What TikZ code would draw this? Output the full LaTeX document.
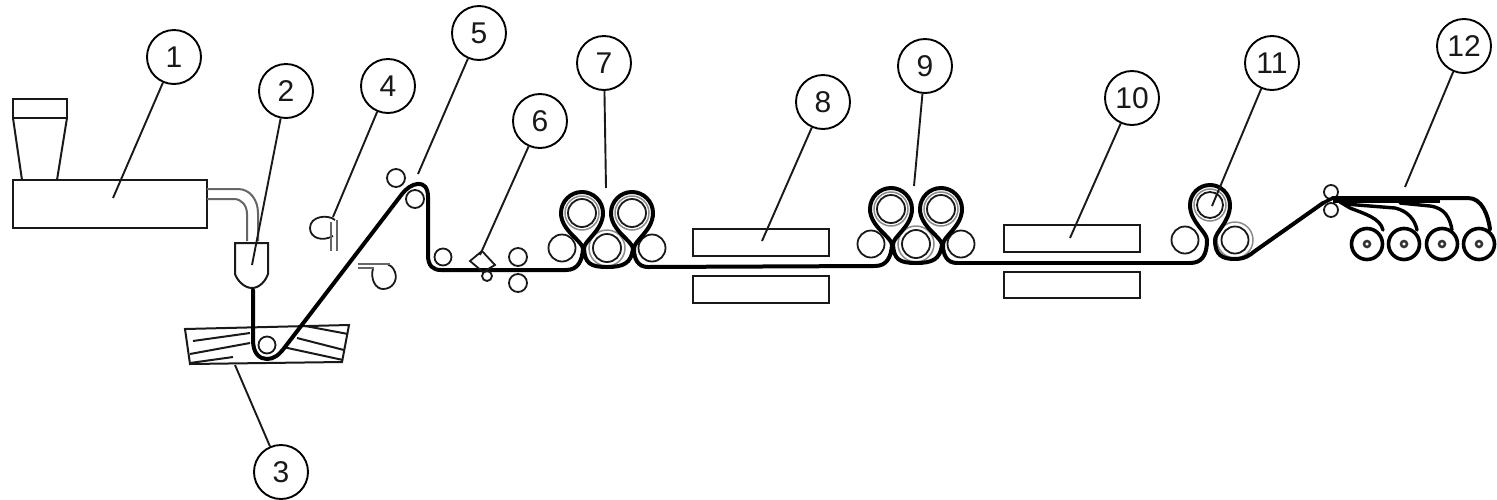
\documentclass[tikz,border=0pt]{standalone}
\usepackage{fontspec}
\setmainfont{Liberation Sans}
\newcommand{\topcurve}[3]{ .. controls (#1,#2-#3*0.55) and (#1+#3*0.45,#2-#3) .. (#1+#3,#2-#3) .. controls (#1+#3*1.55,#2-#3) and (#1+#3*2,#2-#3*0.55) .. (#1+#3*2,#2)}
\tikzset{
  callout/.style={circle,draw=black,line width=1.9pt,minimum size=54pt,inner sep=0pt,font=\fontsize{30}{32}\selectfont,text=black!90},
  leaderline/.style={line width=1.9pt,black!90},
  roller/.style={line width=1.8pt,black!90},
  ringline/.style={line width=1.5pt,black!45},
  web/.style={line width=4pt,black,line cap=round,line join=round},
  thinweb/.style={line width=3.4pt,black,line cap=round,line join=round},
  equip/.style={line width=2pt,black!90},
  graypart/.style={line width=2pt,black!60},
  windroll/.style={line width=3.6pt,black}
}
\newcommand{\rollergroup}[2]{%
\begin{scope}[shift={(#1,#2)}]
  \draw[ringline] (0,0) circle[radius=17pt] (50,0) circle[radius=17pt];
  \draw[roller] (0,0) circle[radius=14pt] (50,0) circle[radius=14pt]
    (-20,35) circle[radius=13.5pt] (25,35) circle[radius=14pt] (70,35) circle[radius=13.5pt];
  \draw[ringline] (25,35) circle[radius=18pt];
  \draw[web] (-16,57) .. controls (-4,57) and (0,48) .. (1,36)
    .. controls (1,28) and (-21,18) .. (-21,0)
    \topcurve{-21}{0}{21}
    .. controls (21,18) and (1,28) .. (2,36)
    .. controls (3,50) and (8,54) .. (25,54)
    .. controls (42,54) and (49,50) .. (51,36)
    .. controls (51,28) and (29,18) .. (29,0)
    \topcurve{29}{0}{21}
    .. controls (71,18) and (51,28) .. (52,36)
    .. controls (52,46) and (56,54) .. (66,54);
\end{scope}}
\begin{document}
\begin{tikzpicture}[x=1pt,y=-1pt]
\useasboundingbox[fill=white] (0,0) rectangle (1497,499);

% extruder
\draw[equip] (13,180) rectangle (207,228);
\draw[equip] (13,99) rectangle (67,118);
\draw[equip] (13,118) -- (22,180) (67,118) -- (57,180);
\draw[graypart] (207,189) -- (238,189) .. controls (250,189) and (258,200) .. (258,213) -- (258,241);
\draw[graypart] (207,199) -- (234,199) .. controls (242,199) and (247,206) .. (247,214) -- (247,241);
\draw[equip] (235,243) -- (268,243) -- (268,274) .. controls (266,280) and (260,288) .. (252,288) .. controls (244,288) and (237,280) .. (235,274) -- cycle;

% bath
\draw[equip] (185,329) -- (349,325) -- (342,362) -- (190,364) -- cycle;
\draw[equip] (193,341) -- (250,333) (190,354) -- (250,343) (190,363) -- (233,357)
  (297,338) -- (344,350) (283,347) -- (343,360) (300,325) -- (348,334);

% film path, first part
\draw[roller] (267,345) circle[radius=8.5pt];
\draw[roller] (396,178) circle[radius=9pt] (415,199) circle[radius=9pt] (443,257) circle[radius=8.5pt];
\draw[web] (253,290) -- (253,340) .. controls (253,354) and (260,359) .. (267,359)
  .. controls (274,359) and (279,355) .. (285,347) -- (402,194) .. controls (410,183) and (428,177) .. (428,197)
  -- (428,255) .. controls (428,266) and (433,270) .. (441,270) -- (566,270);

% air knives
\draw[roller] (335,220) .. controls (328,214) and (310,216) .. (310,228) .. controls (310,238) and (322,242) .. (333,236);
\draw[graypart] (331,222) -- (331,251) (337,220) -- (337,251);
\draw[roller] (373,268) .. controls (370,280) and (376,289) .. (383,289) .. controls (392,289) and (398,281) .. (395,272) .. controls (393,267) and (390,265) .. (388,265);
\draw[graypart] (358,264) -- (390,264) (358,268) -- (374,268);

% small rollers and diamond
\draw[roller] (482,251) -- (470,261) -- (483,272) -- (495,265) -- cycle;
\draw[roller] (487,276) circle[radius=5pt];
\draw[roller] (518,257) circle[radius=9pt] (518,283) circle[radius=9pt];

% roller groups
\rollergroup{582}{213}
\draw[web] (648,267) -- (874,266);
\rollergroup{891}{209}
\draw[web] (957,263) -- (1190,263);

% last roller group
\draw[ringline] (1210,205) circle[radius=16pt];
\draw[roller] (1210,205) circle[radius=13pt] (1185,240) circle[radius=13.5pt] (1235,240) circle[radius=13.5pt];
\draw[ringline] (1235,240) circle[radius=18pt];
\draw[web] (1190,263) .. controls (1202,263) and (1207,255) .. (1207,240)
  .. controls (1207,232) and (1190,222) .. (1190,205)
  \topcurve{1190}{205}{20}
  .. controls (1230,222) and (1215,232) .. (1215,240)
  .. controls (1215,255) and (1222,259) .. (1235,259)
  .. controls (1245,259) and (1250,255) .. (1255,251) -- (1323,203);

% oven boxes
\draw[equip] (693,229) rectangle (829,256) (693,276) rectangle (829,303);
\draw[equip] (1004,225) rectangle (1140,252) (1004,272) rectangle (1140,298);

% winder
\draw[roller] (1331,192) circle[radius=7pt] (1331,210) circle[radius=7pt];
\draw[thinweb] (1323,203) -- (1333,198);
\draw[web] (1333,198) -- (1468,198) .. controls (1482,198) and (1488,215) .. (1490,229);
\draw[line width=5pt,black] (1333,200) -- (1440,200);
\draw[thinweb] (1400,203) -- (1430,206) .. controls (1445,208) and (1450,218) .. (1452,230);
\draw[thinweb] (1345,204) -- (1395,208) .. controls (1408,211) and (1415,220) .. (1417,230);
\draw[thinweb] (1340,202) -- (1350,208) .. controls (1365,214) and (1380,218) .. (1383,230);
\foreach \px in {1367,1404,1442,1479}{
  \draw[windroll] (\px,244) circle[radius=15.5pt];
  \draw[line width=2.5pt,black!80] (\px,244) circle[radius=3pt];
}

% callouts
\node[callout] (c1) at (174,57) {1};
\node[callout] (c2) at (286,91) {2};
\node[callout] (c3) at (281,472) {3};
\node[callout] (c4) at (388,86) {4};
\node[callout] (c5) at (479,33) {5};
\node[callout] (c6) at (540,121) {6};
\node[callout] (c7) at (604,63) {7};
\node[callout] (c8) at (823,102) {8};
\node[callout] (c9) at (925,66) {9};
\node[callout] (c10) at (1132,98) {10};
\node[callout] (c11) at (1272,63) {11};
\node[callout] (c12) at (1464,46) {12};
\coordinate (e1) at (113,198);
\coordinate (e2) at (252,265);
\coordinate (e3) at (235,365);
\coordinate (e4) at (333,217);
\coordinate (e5) at (418,174);
\coordinate (e6) at (480,255);
\coordinate (e7) at (606,188);
\coordinate (e8) at (762,241);
\coordinate (e9) at (914,186);
\coordinate (e10) at (1070,238);
\coordinate (e11) at (1212,206);
\coordinate (e12) at (1405,187);
\foreach \n in {1,...,12}{\draw[leaderline] (c\n) -- (e\n);}
\end{tikzpicture}
\end{document}
